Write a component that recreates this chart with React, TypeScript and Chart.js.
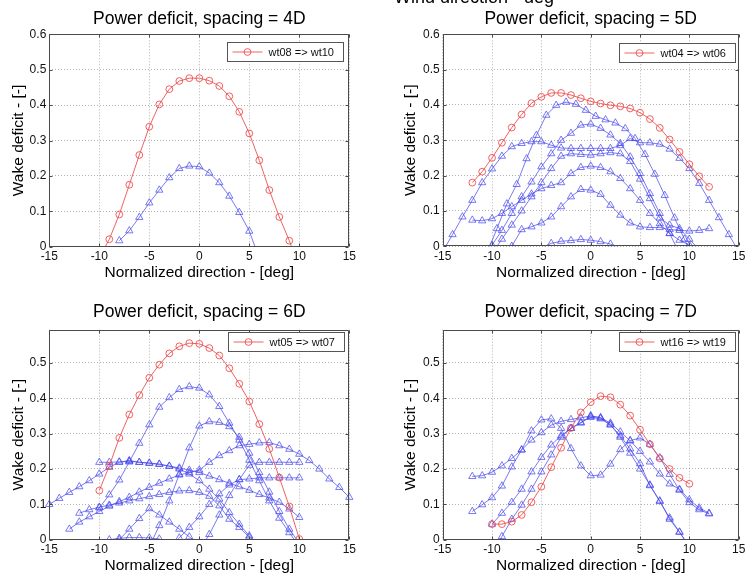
import React, { useEffect, useRef } from "react";
import { Chart, registerables } from "chart.js";

Chart.register(...registerables);

const FONT = "'Liberation Sans', Arial, Helvetica, sans-serif";
const RED = "rgba(238, 70, 70, 0.85)";
const BLUE = "rgba(70, 70, 238, 0.72)";

const xTickValues = [-15, -10, -5, 0, 5, 10, 15];
const yTicksTop = [0, 0.1, 0.2, 0.3, 0.4, 0.5, 0.6];
const yTicksBottom = [0, 0.1, 0.2, 0.3, 0.4, 0.5];

// ---------- Panel 1: spacing = 4D ----------
const p1RedX = [-10, -9, -8, -7, -6, -5, -4, -3, -2, -1, 0, 1, 2, 3, 4, 5, 6, 7, 8, 9, 10];
const p1RedY = [-0.03, 0.021, 0.091, 0.175, 0.259, 0.339, 0.402, 0.445, 0.468, 0.476, 0.476, 0.469, 0.454, 0.425, 0.381, 0.32, 0.244, 0.16, 0.084, 0.017, -0.06];
const p1aX = [-8, -7, -6, -5, -4, -3, -2, -1, 0, 1, 2, 3, 4, 5, 6];
const p1aY = [0.017, 0.045, 0.083, 0.124, 0.16, 0.195, 0.221, 0.228, 0.226, 0.208, 0.181, 0.143, 0.097, 0.044, -0.033];

// ---------- Panel 2: spacing = 5D ----------
const p2RedX = [-12, -11, -10, -9, -8, -7, -6, -5, -4, -3, -2, -1, 0, 1, 2, 3, 4, 5, 6, 7, 8, 9, 10, 11, 12];
const p2RedY = [0.18, 0.211, 0.25, 0.293, 0.336, 0.373, 0.405, 0.423, 0.434, 0.434, 0.428, 0.419, 0.41, 0.404, 0.399, 0.396, 0.39, 0.378, 0.36, 0.335, 0.302, 0.267, 0.232, 0.198, 0.168];
const p2aX = [-15, -14, -13, -12, -11, -10, -9, -8, -7, -6, -5, -4, -3, -2, -1, 0, 1, 2, 3, 4, 5, 6, 7, 8, 9, 10, 11, 12, 13, 14, 15];
const p2aY = [-0.015, 0.033, 0.083, 0.13, 0.18, 0.219, 0.255, 0.282, 0.291, 0.296, 0.296, 0.286, 0.278, 0.277, 0.277, 0.277, 0.277, 0.277, 0.285, 0.305, 0.293, 0.293, 0.289, 0.275, 0.249, 0.22, 0.178, 0.13, 0.081, 0.033, -0.015];
const p2bX = [-10.5, -9.5, -8.5, -7.5, -6.5, -5.5, -4.5, -3.5, -2.5, -1.5, -0.5, 0.5, 1.5, 2.5, 3.5, 4.5, 5.5, 6.5, 7.5, 8.5, 9.5, 10.5];
const p2bY = [-0.02, 0.05, 0.12, 0.175, 0.248, 0.314, 0.371, 0.399, 0.408, 0.402, 0.385, 0.368, 0.358, 0.349, 0.333, 0.305, 0.26, 0.204, 0.144, 0.08, 0.02, -0.04];
const p2cX = [-12, -11, -10, -9, -8, -7, -6, -5, -4, -3, -2, -1, 0, 1, 2, 3, 4, 5, 6, 7, 8, 9, 10];
const p2cY = [0.074, 0.072, 0.078, 0.093, 0.112, 0.13, 0.148, 0.163, 0.172, 0.18, 0.206, 0.223, 0.227, 0.223, 0.211, 0.192, 0.163, 0.13, 0.093, 0.064, 0.036, 0.017, 0.003];
const p2dX = [-8, -7, -6, -5, -4, -3, -2, -1, 0, 1, 2, 3, 4, 5, 6, 7, 8, 9, 10, 11, 12];
const p2dY = [0.0, 0.047, 0.055, 0.066, 0.083, 0.112, 0.14, 0.161, 0.159, 0.147, 0.116, 0.088, 0.066, 0.055, 0.053, 0.053, 0.047, 0.045, 0.043, 0.045, 0.05];
const p2eX = [-5, -4, -3, -2, -1, 0, 1, 2, 3];
const p2eY = [-0.005, 0.008, 0.014, 0.016, 0.019, 0.017, 0.013, 0.006, -0.005];
const p2fX = [-10, -9, -8, -7, -6, -5, -4, -3, -2, -1, 0, 1, 2, 3, 4, 5, 6, 7, 8, 9];
const p2fY = [0.003, 0.045, 0.093, 0.14, 0.182, 0.225, 0.262, 0.3, 0.32, 0.343, 0.346, 0.334, 0.315, 0.291, 0.253, 0.206, 0.149, 0.093, 0.036, -0.02];
const p2gX = [-10, -9, -8, -7, -6, -5, -4, -3, -2, -1, 0, 1, 2, 3, 4, 5, 6, 7, 8, 9, 10, 11];
const p2gY = [-0.02, 0.02, 0.06, 0.1, 0.14, 0.18, 0.22, 0.255, 0.262, 0.26, 0.258, 0.262, 0.265, 0.262, 0.24, 0.19, 0.135, 0.08, 0.06, 0.05, 0.02, -0.01];

// ---------- Panel 3: spacing = 6D ----------
const p3RedX = [-10, -9, -8, -7, -6, -5, -4, -3, -2, -1, 0, 1, 2, 3, 4, 5, 6, 7, 8, 9, 10];
const p3RedY = [0.139, 0.209, 0.288, 0.354, 0.409, 0.458, 0.495, 0.527, 0.547, 0.556, 0.554, 0.542, 0.521, 0.485, 0.441, 0.391, 0.327, 0.257, 0.176, 0.094, 0.002];
const p3aX = [-10, -9, -8, -7, -6, -5, -4, -3, -2, -1, 0, 1, 2, 3, 4, 5, 6, 7, 8, 9, 10];
const p3aY = [0.09, 0.127, 0.169, 0.22, 0.273, 0.325, 0.375, 0.402, 0.425, 0.433, 0.429, 0.41, 0.377, 0.33, 0.282, 0.225, 0.167, 0.11, 0.061, 0.02, -0.02];
const p3bX = [-5, -4, -3, -2, -1, 0, 1, 2, 3, 4, 5, 6, 7, 8, 9, 10];
const p3bY = [-0.02, 0.04, 0.11, 0.185, 0.26, 0.322, 0.334, 0.332, 0.32, 0.29, 0.245, 0.19, 0.135, 0.08, 0.03, -0.01];
const p3cX = [-13, -12, -11, -10, -9, -8, -7, -6, -5, -4, -3, -2, -1, 0, 1, 2, 3, 4, 5, 6, 7, 8, 9, 10, 11, 12, 13, 14, 15];
const p3cY = [0.03, 0.05, 0.065, 0.08, 0.095, 0.108, 0.12, 0.135, 0.148, 0.16, 0.172, 0.183, 0.19, 0.197, 0.219, 0.238, 0.252, 0.266, 0.27, 0.274, 0.275, 0.266, 0.256, 0.242, 0.224, 0.2, 0.172, 0.148, 0.12];
const p3dX = [-15, -14, -13, -12, -11, -10, -9, -8, -7, -6, -5, -4, -3, -2, -1, 0, 1, 2, 3, 4, 5, 6];
const p3dY = [0.1, 0.117, 0.134, 0.15, 0.167, 0.186, 0.205, 0.219, 0.224, 0.219, 0.217, 0.214, 0.208, 0.2, 0.186, 0.167, 0.143, 0.115, 0.077, 0.044, 0.011, -0.02];
const p3eX = [-10, -9, -8, -7, -6, -5, -4, -3, -2, -1, 0, 1, 2, 3, 4, 5, 6, 7, 8, 9, 10];
const p3eY = [0.219, 0.219, 0.22, 0.222, 0.219, 0.216, 0.213, 0.208, 0.203, 0.197, 0.19, 0.18, 0.17, 0.16, 0.15, 0.14, 0.128, 0.118, 0.106, 0.087, 0.063];
const p3fX = [0, 1, 2, 3, 4, 5, 6, 7, 8, 9, 10];
const p3fY = [-0.03, 0.015, 0.07, 0.125, 0.17, 0.211, 0.219, 0.219, 0.219, 0.219, 0.219];
const p3gX = [-3, -2, -1, 0, 1, 2, 3, 4, 5, 6, 7, 8, 9, 10];
const p3gY = [-0.02, 0.005, 0.035, 0.065, 0.1, 0.13, 0.155, 0.17, 0.172, 0.175, 0.175, 0.175, 0.175, 0.175];
const p3hX = [-12, -11, -10, -9, -8, -7, -6, -5, -4, -3, -2, -1, 0, 1, 2, 3, 4, 5];
const p3hY = [0.075, 0.085, 0.092, 0.098, 0.104, 0.11, 0.116, 0.122, 0.128, 0.134, 0.138, 0.139, 0.134, 0.123, 0.096, 0.058, 0.035, 0.007];
const p3iX = [-10, -9, -8, -7, -6, -5, -4, -3];
const p3iY = [-0.02, 0.0, 0.004, 0.006, 0.006, 0.005, 0.002, -0.02];
const p3jX = [-8, -7, -6, -5, -4, -3, -2, -1, 0];
const p3jY = [0.0, 0.03, 0.06, 0.088, 0.07, 0.05, 0.03, 0.008, -0.015];

// ---------- Panel 4: spacing = 7D ----------
const p4RedX = [-10, -9, -8, -7, -6, -5, -4, -3, -2, -1, 0, 1, 2, 3, 4, 5, 6, 7, 8, 9, 10];
const p4RedY = [0.044, 0.044, 0.051, 0.07, 0.106, 0.15, 0.205, 0.26, 0.316, 0.36, 0.389, 0.406, 0.403, 0.382, 0.351, 0.311, 0.27, 0.23, 0.2, 0.175, 0.158];
const p4aX = [-12, -11, -10, -9, -8, -7, -6, -5, -4, -3, -2, -1, 0, 1, 2, 3, 4, 5, 6, 7, 8, 9, 10, 11, 12];
const p4aY = [0.179, 0.181, 0.191, 0.209, 0.23, 0.254, 0.308, 0.339, 0.342, 0.315, 0.258, 0.209, 0.181, 0.183, 0.214, 0.255, 0.28, 0.288, 0.27, 0.232, 0.185, 0.14, 0.105, 0.085, 0.073];
const p4bX = [-12, -11, -10, -9, -8, -7, -6, -5, -4, -3, -2, -1, 0, 1, 2, 3, 4, 5, 6, 7, 8, 9, 10, 11, 12];
const p4bY = [0.08, 0.099, 0.119, 0.152, 0.206, 0.254, 0.282, 0.303, 0.324, 0.335, 0.34, 0.345, 0.35, 0.345, 0.33, 0.305, 0.28, 0.25, 0.22, 0.186, 0.158, 0.143, 0.113, 0.09, 0.075];
const p4cX = [-10, -9, -8, -7, -6, -5, -4, -3, -2, -1, 0, 1, 2, 3, 4, 5, 6, 7, 8, 9, 10];
const p4cY = [-0.04, 0.009, 0.058, 0.098, 0.143, 0.192, 0.24, 0.29, 0.315, 0.332, 0.346, 0.342, 0.325, 0.294, 0.257, 0.215, 0.153, 0.11, 0.058, 0.021, -0.02];
const p4dX = [-10, -9, -8, -7, -6, -5, -4, -3, -2, -1, 0, 1, 2, 3, 4, 5, 6, 7, 8, 9, 10];
const p4dY = [0.044, 0.075, 0.106, 0.143, 0.192, 0.233, 0.268, 0.294, 0.315, 0.33, 0.35, 0.345, 0.325, 0.29, 0.245, 0.2, 0.155, 0.108, 0.062, 0.022, -0.02];

type Spec = {
  title: string;
  legendText: string;
  redX: number[];
  redY: number[];
  blue: [number[], number[]][];
  yTicks: number[];
  yMax: number;
  box: { left: number; top: number; width: number; height: number };
  yAxisWidth: number;
  xAxisHeight: number;
  padRight: number;
  titlePadTop: number;
  titlePadBottom: number;
  yTitlePad: number;
  xTitlePad: number;
  legendTop: number;
  legendRight: number;
};

const specs: Spec[] = [
  {
    title: "Power deficit, spacing = 4D",
    legendText: "wt08 => wt10",
    redX: p1RedX, redY: p1RedY,
    blue: [[p1aX, p1aY]],
    yTicks: yTicksTop, yMax: 0.6,
    box: { left: 0, top: 0, width: 372, height: 289 },
    yAxisWidth: 49.3, xAxisHeight: 42.3, padRight: 22.7,
    titlePadTop: 9.1, titlePadBottom: 4.2, yTitlePad: 9.3, xTitlePad: 7,
    legendTop: 7.5, legendRight: 6,
  },
  {
    title: "Power deficit, spacing = 5D",
    legendText: "wt04 => wt06",
    redX: p2RedX, redY: p2RedY,
    blue: [[p2aX, p2aY], [p2bX, p2bY], [p2cX, p2cY], [p2dX, p2dY], [p2eX, p2eY], [p2fX, p2fY], [p2gX, p2gY]],
    yTicks: yTicksTop, yMax: 0.6,
    box: { left: 372, top: 0, width: 385, height: 289 },
    yAxisWidth: 70.7, xAxisHeight: 42.8, padRight: 18.3,
    titlePadTop: 9.1, titlePadBottom: 4.2, yTitlePad: 29.3, xTitlePad: 7,
    legendTop: 8.5, legendRight: 3.5,
  },
  {
    title: "Power deficit, spacing = 6D",
    legendText: "wt05 => wt07",
    redX: p3RedX, redY: p3RedY,
    blue: [[p3aX, p3aY], [p3bX, p3bY], [p3cX, p3cY], [p3dX, p3dY], [p3eX, p3eY], [p3fX, p3fY], [p3gX, p3gY], [p3hX, p3hY], [p3iX, p3iY], [p3jX, p3jY]],
    yTicks: yTicksBottom, yMax: 0.594,
    box: { left: 0, top: 289, width: 372, height: 289 },
    yAxisWidth: 49.3, xAxisHeight: 38.3, padRight: 22.7,
    titlePadTop: 12.7, titlePadBottom: 7.0, yTitlePad: 9.3, xTitlePad: 3,
    legendTop: 2.6, legendRight: 5.5,
  },
  {
    title: "Power deficit, spacing = 7D",
    legendText: "wt16 => wt19",
    redX: p4RedX, redY: p4RedY,
    blue: [[p4aX, p4aY], [p4bX, p4bY], [p4cX, p4cY], [p4dX, p4dY]],
    yTicks: yTicksBottom, yMax: 0.594,
    box: { left: 372, top: 289, width: 385, height: 289 },
    yAxisWidth: 70.7, xAxisHeight: 38.3, padRight: 18.3,
    titlePadTop: 12.7, titlePadBottom: 7.0, yTitlePad: 29.3, xTitlePad: 3,
    legendTop: 2.2, legendRight: 3.5,
  },
];

const framePlugin = {
  id: "frame",
  afterDatasetsDraw(chart: any, _args: any, opts: any) {
    const { ctx, chartArea: a } = chart;
    const xs = chart.scales.x;
    const ys = chart.scales.y;
    ctx.save();
    ctx.strokeStyle = "#4a4a4a";
    ctx.lineWidth = 1;
    const L = Math.round(a.left) + 0.5;
    const T = Math.round(a.top) + 0.5;
    const R = Math.round(a.right) - 0.5;
    const B = Math.round(a.bottom) - 0.5;
    ctx.beginPath();
    ctx.rect(L, T, R - L, B - T);
    xs.ticks.forEach((t: any) => {
      const px = Math.round(xs.getPixelForValue(t.value)) + 0.5;
      ctx.moveTo(px, B);
      ctx.lineTo(px, B - 3);
      ctx.moveTo(px, T);
      ctx.lineTo(px, T + 3);
    });
    ys.ticks.forEach((t: any) => {
      const py = Math.round(ys.getPixelForValue(t.value)) + 0.5;
      ctx.moveTo(L, py);
      ctx.lineTo(L + 3, py);
      ctx.moveTo(R, py);
      ctx.lineTo(R - 3, py);
    });
    ctx.stroke();

    // legend box (upper right, inside axes)
    const w = 116;
    const h = 19;
    const x0 = Math.round(a.right - opts.legendRight - w) + 0.5;
    const y0 = Math.round(a.top + opts.legendTop) + 0.5;
    ctx.fillStyle = "#ffffff";
    ctx.fillRect(x0, y0, w, h);
    ctx.strokeStyle = "#555555";
    ctx.strokeRect(x0, y0, w, h);
    const cy = y0 + h / 2;
    ctx.strokeStyle = RED;
    ctx.beginPath();
    ctx.moveTo(x0 + 5, cy);
    ctx.lineTo(x0 + 35, cy);
    ctx.stroke();
    ctx.beginPath();
    ctx.arc(x0 + 20, cy, 3.4, 0, Math.PI * 2);
    ctx.stroke();
    ctx.fillStyle = "#111111";
    ctx.font = `11px ${FONT}`;
    ctx.textBaseline = "middle";
    ctx.textAlign = "left";
    ctx.fillText(opts.text, x0 + 41, cy + 0.5);
    ctx.restore();
  },
};

function makeDataset(label: string, xs: number[], ys: number[], color: string, style: string, r: number) {
  return {
    label,
    data: xs.map((x, i) => ({ x, y: ys[i] })),
    borderColor: color,
    backgroundColor: "rgba(0,0,0,0)",
    borderWidth: 1,
    pointStyle: style,
    pointRadius: (c: any) => {
      const v = c.raw;
      return v && v.y >= 0 ? r : 0;
    },
    pointHoverRadius: 0,
    pointBorderColor: color,
    pointBackgroundColor: "rgba(0,0,0,0)",
    pointBorderWidth: 1,
    tension: 0,
    fill: false,
    clip: { left: 6, right: 6, top: 6, bottom: 0 },
  };
}

function Panel({ spec }: { spec: Spec }) {
  const ref = useRef<HTMLCanvasElement>(null);
  useEffect(() => {
    const canvas = ref.current;
    if (!canvas) return;
    const datasets: any[] = [makeDataset(spec.legendText, spec.redX, spec.redY, RED, "circle", 3.4)];
    spec.blue.forEach(([bx, by], i) => {
      datasets.push(makeDataset("pair " + (i + 1), bx, by, BLUE, "triangle", 4.2));
    });
    const chart = new Chart(canvas, {
      type: "line",
      data: { datasets },
      plugins: [framePlugin as any],
      options: {
        responsive: false,
        animation: false,
        events: [],
        devicePixelRatio: 1,
        layout: { padding: { top: 0, left: 0, bottom: 0, right: spec.padRight } },
        plugins: {
          legend: { display: false },
          tooltip: { enabled: false },
          title: {
            display: true,
            text: spec.title,
            fullSize: false,
            color: "#000000",
            font: { family: FONT, size: 17.5, weight: "normal" },
            padding: { top: spec.titlePadTop, bottom: spec.titlePadBottom },
          },
          frame: { text: spec.legendText, legendTop: spec.legendTop, legendRight: spec.legendRight },
        } as any,
        scales: {
          x: {
            type: "linear",
            min: -15,
            max: 15,
            afterBuildTicks: (s: any) => {
              s.ticks = xTickValues.map((v) => ({ value: v }));
            },
            afterFit: (s: any) => {
              s.height = spec.xAxisHeight;
            },
            ticks: {
              color: "#111111",
              font: { family: FONT, size: 12 },
              padding: 3,
              maxRotation: 0,
              minRotation: 0,
              autoSkip: false,
            },
            grid: { color: "rgba(0,0,0,0.3)", lineWidth: 1, drawTicks: false },
            border: { display: false, dash: [1, 2] },
            title: {
              display: true,
              text: "Normalized direction - [deg]",
              color: "#000000",
              font: { family: FONT, size: 15.5 },
              padding: { top: 0, bottom: spec.xTitlePad },
            },
          },
          y: {
            type: "linear",
            min: 0,
            max: spec.yMax,
            afterBuildTicks: (s: any) => {
              s.ticks = spec.yTicks.map((v) => ({ value: v }));
            },
            afterFit: (s: any) => {
              s.width = spec.yAxisWidth;
            },
            ticks: {
              color: "#111111",
              font: { family: FONT, size: 12 },
              padding: 3,
              autoSkip: false,
            },
            grid: { color: "rgba(0,0,0,0.3)", lineWidth: 1, drawTicks: false },
            border: { display: false, dash: [1, 2] },
            title: {
              display: true,
              text: "Wake deficit - [-]",
              color: "#000000",
              font: { family: FONT, size: 15.5 },
              padding: { top: spec.yTitlePad, bottom: 0 },
            },
          },
        },
      } as any,
    });
    return () => chart.destroy();
  }, [spec]);
  return (
    <canvas
      ref={ref}
      width={spec.box.width}
      height={spec.box.height}
      style={{
        position: "absolute",
        left: spec.box.left,
        top: spec.box.top,
        width: spec.box.width,
        height: spec.box.height,
        display: "block",
      }}
    />
  );
}

export default function App() {
  return (
    <div
      style={{
        position: "fixed",
        left: 0,
        top: 0,
        width: 745,
        height: 578,
        overflow: "hidden",
        background: "#ffffff",
      }}
    >
      {specs.map((s, i) => (
        <Panel key={i} spec={s} />
      ))}
      <div
        style={{
          position: "absolute",
          left: 394,
          top: -11.8,
          fontFamily: FONT,
          fontSize: 18,
          lineHeight: "18px",
          color: "#000",
          whiteSpace: "nowrap",
        }}
      >
        Wind direction - deg
      </div>
    </div>
  );
}
